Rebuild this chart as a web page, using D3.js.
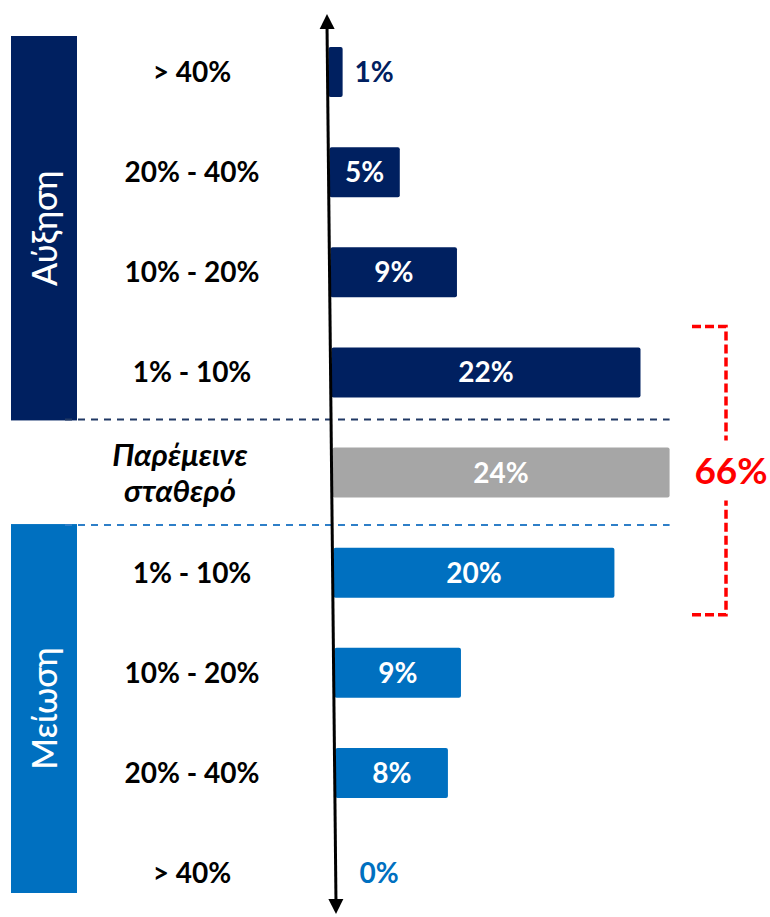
<!DOCTYPE html>
<html>
<head>
<meta charset="utf-8">
<script src="https://cdn.jsdelivr.net/npm/d3@7"></script>
<style>
  html, body { margin: 0; padding: 0; background: #ffffff; }
  svg { display: block; }
  text { font-family: Lato, "Open Sans", "Noto Sans", sans-serif; }
</style>
</head>
<body>
<svg id="chart" width="770" height="917"></svg>
<script>
// Change bands, top (largest increase) to bottom (largest decrease)
const bandLabels = ["> 40%", "20% - 40%", "10% - 20%", "1% - 10%", "Παρέμεινε σταθερό", "1% - 10%", "10% - 20%", "20% - 40%", "> 40%"];
// Share of respondents per band (%)
const shares = [1, 5, 9, 22, 24, 20, 9, 8, 0];
// Group of each band: up, flat, down
const groups = ["up", "up", "up", "up", "flat", "down", "down", "down", "down"];
// Group titles for the side boxes
const groupTitles = { up: "Αύξηση", down: "Μείωση" };
// Bands gathered by the red bracket
const bracketRows = [3, 4, 5];

const colors = { up: "#002060", flat: "#A6A6A6", down: "#0070C0" };
const dashColors = { up: "#203864", down: "#2E7FC8" };

const svg = d3.select("#chart");
const rows = d3.range(bandLabels.length);

// Row centres
const y = d3.scalePoint().domain(rows).range([72, 873]);
const barH = 50;
// Bar length
const x = d3.scaleLinear().domain([0, 24]).range([0, 337]);
// The vertical axis leans slightly to the right as it goes down
const axisX = d3.scaleLinear().domain([14, 914]).range([327, 336]);

const barStart = r => axisX(y(r)) + 1;
const barEnd = r => barStart(r) + x(shares[r]);

// Side boxes with rotated group titles
const boxSpans = {
  up: [y(0) - 36, (y(3) + y(4)) / 2 - 2],
  down: [(y(4) + y(5)) / 2 + 1.5, y(8) + 20]
};
Object.entries(boxSpans).forEach(([g, [t, b]]) => {
  svg.append("rect")
    .attr("x", 11).attr("y", t)
    .attr("width", 66).attr("height", b - t)
    .attr("fill", colors[g]);
  svg.append("text")
    .attr("transform", `translate(45,${(t + b) / 2}) rotate(-90)`)
    .attr("text-anchor", "middle")
    .attr("dy", "0.36em")
    .attr("fill", "#ffffff")
    .attr("font-size", 34)
    .attr("font-weight", 500)
    .text(groupTitles[g]);
});

// Dashed separators around the "unchanged" band
const sepY = { up: (y(3) + y(4)) / 2 - 3, down: (y(4) + y(5)) / 2 + 2.5 };
Object.entries(sepY).forEach(([g, yy]) => {
  svg.append("line")
    .attr("x1", 65).attr("x2", barEnd(4))
    .attr("y1", yy).attr("y2", yy)
    .attr("stroke", dashColors[g])
    .attr("stroke-width", 2)
    .attr("stroke-dasharray", "7,6");
});

// Band labels
rows.forEach(r => {
  if (groups[r] === "flat") {
    const words = bandLabels[r].split(" ");
    svg.append("text")
      .attr("x", 180).attr("y", y(r))
      .attr("text-anchor", "middle")
      .attr("font-size", 31)
      .attr("font-weight", 700)
      .attr("font-style", "italic")
      .attr("fill", "#000")
      .selectAll("tspan").data(words).join("tspan")
      .attr("x", 180)
      .attr("dy", (d, i) => i === 0 ? "-0.22em" : "1.17em")
      .text(d => d);
  } else {
    svg.append("text")
      .attr("x", 192).attr("y", y(r))
      .attr("dy", "0.36em")
      .attr("text-anchor", "middle")
      .attr("font-size", 28)
      .attr("font-weight", 700)
      .attr("fill", "#000")
      .text(bandLabels[r]);
  }
});

// Bars
svg.append("g").selectAll("rect").data(rows.filter(r => shares[r] > 0)).join("rect")
  .attr("x", r => barStart(r))
  .attr("y", r => y(r) - barH / 2)
  .attr("width", r => x(shares[r]))
  .attr("height", barH)
  .attr("rx", 2)
  .attr("fill", r => colors[groups[r]]);

// Value labels: inside wide bars, beside short ones
svg.append("g").selectAll("text").data(rows).join("text")
  .each(function (r) {
    const inside = x(shares[r]) > 60;
    const t = d3.select(this)
      .attr("y", y(r))
      .attr("dy", "0.36em")
      .attr("font-size", 28)
      .attr("font-weight", 700)
      .text(shares[r] + "%");
    if (inside) {
      t.attr("x", (barStart(r) + barEnd(r)) / 2)
        .attr("text-anchor", "middle")
        .attr("fill", "#ffffff");
    } else {
      t.attr("x", Math.max(barEnd(r) + 12, axisX(y(r)) + 24))
        .attr("text-anchor", "start")
        .attr("fill", colors[groups[r]]);
    }
  });

// Vertical double-headed axis
const axTop = [axisX(14), 14], axBot = [axisX(914), 914];
const ang = Math.atan2(axBot[1] - axTop[1], axBot[0] - axTop[0]);
const head = 15, half = 7.5;
function arrow(tip, dir) {
  const bx = tip[0] + dir * Math.cos(ang) * head, by = tip[1] + dir * Math.sin(ang) * head;
  const px = -Math.sin(ang) * half, py = Math.cos(ang) * half;
  return `M${tip[0]},${tip[1]}L${bx + px},${by + py}L${bx - px},${by - py}Z`;
}
svg.append("line")
  .attr("x1", axTop[0]).attr("y1", axTop[1] + 10)
  .attr("x2", axBot[0]).attr("y2", axBot[1] - 10)
  .attr("stroke", "#000").attr("stroke-width", 3);
svg.append("path").attr("d", arrow(axTop, 1)).attr("fill", "#000");
svg.append("path").attr("d", arrow(axBot, -1)).attr("fill", "#000");

// Red bracket with the combined share
const bTop = y(bracketRows[0]) - 46;
const bBot = y(bracketRows[bracketRows.length - 1]) + 42;
const bX = 726, bX0 = 692;
const total = d3.sum(bracketRows, r => shares[r]);
const midY = (bTop + bBot) / 2;
const red = "#FF0000";
const dash = { stroke: red, "stroke-width": 3.5, "stroke-dasharray": "9,4", fill: "none" };
const seg = d => {
  const p = svg.append("path").attr("d", d);
  Object.entries(dash).forEach(([k, v]) => p.attr(k, v));
};
seg(`M${bX0},${bTop}H${bX}V${midY - 30}`);
seg(`M${bX0},${bBot}H${bX}V${midY + 30}`);
svg.append("text")
  .attr("x", 731).attr("y", midY)
  .attr("dy", "0.36em")
  .attr("text-anchor", "middle")
  .attr("font-size", 37)
  .attr("font-weight", 700)
  .attr("fill", red)
  .text(total + "%");
</script>
</body>
</html>
